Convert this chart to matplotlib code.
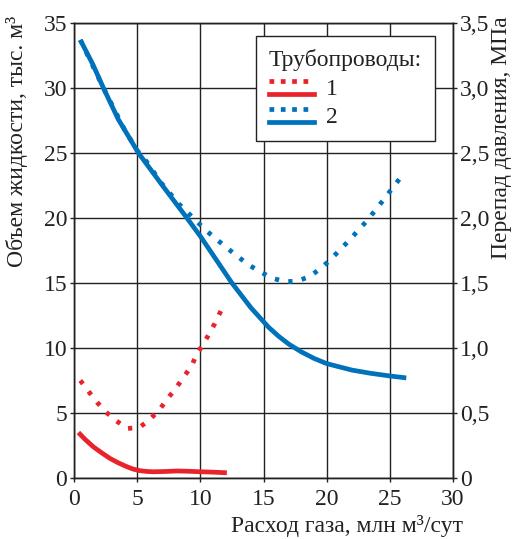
import matplotlib
matplotlib.use('Agg')
import matplotlib.pyplot as plt
from matplotlib.legend_handler import HandlerBase
from matplotlib.lines import Line2D

SERIF = ['Liberation Serif', 'DejaVu Serif']
plt.rcParams['font.family'] = SERIF

RED = '#e8232b'
BLUE = '#0072bc'
FS = 17

# solid curves - liquid volume, thousand m3 (left axis)
x_vol1 = [0.35, 0.9, 1.53, 2.2, 2.86, 3.5, 4.18, 4.7, 5.24, 5.8, 6.3, 7.2, 8.15, 9.0, 10.0, 11.0, 12.1]
vol1 = [3.5, 2.95, 2.4, 1.93, 1.5, 1.17, 0.87, 0.68, 0.56, 0.5, 0.48, 0.5, 0.54, 0.52, 0.48, 0.45, 0.4]

x_vol2 = [0.5, 1.5, 2.33, 3.5, 5.1, 7.0, 8.94, 10.0, 12.5, 14.0, 15.4, 16.2, 17.0, 18.0, 19.0,
          20.0, 22.0, 23.5, 25.0, 26.3]
vol2 = [33.7, 31.8, 30.0, 27.6, 25.0, 22.5, 20.0, 18.6, 15.0, 13.1, 11.6, 10.9, 10.3, 9.7, 9.2,
        8.8, 8.3, 8.05, 7.85, 7.7]

# dotted curves - pressure drop, MPa (right axis)
x_dp1 = [0.5, 1.2, 1.85, 2.55, 3.35, 4.2, 5.2, 6.0, 6.8, 7.4, 8.1, 8.7, 9.3, 9.7, 10.3, 11.1, 11.8]
dp1 = [0.75, 0.66, 0.58, 0.505, 0.44, 0.38, 0.39, 0.45, 0.53, 0.61, 0.695, 0.78, 0.86, 0.95, 1.04, 1.18, 1.32]

x_dp2 = [0.5, 2.33, 4.0, 5.0, 5.77, 6.9, 8.28, 10.5, 12.1, 13.8, 15.6, 16.7, 17.7, 18.65, 19.5,
         20.3, 21.8, 23.2, 24.5, 25.8]
dp2 = [3.37, 3.0, 2.68, 2.52, 2.43, 2.27, 2.11, 1.90, 1.77, 1.64, 1.54, 1.51, 1.515, 1.55, 1.61,
       1.68, 1.83, 1.98, 2.14, 2.305]

xticks = [0, 5, 10, 15, 20, 25, 30]
yticks_left = [0, 5, 10, 15, 20, 25, 30, 35]
yticks_right = [0, 0.5, 1.0, 1.5, 2.0, 2.5, 3.0, 3.5]
yticklabels_right = ['0', '0,5', '1,0', '1,5', '2,0', '2,5', '3,0', '3,5']


class HandlerPair(HandlerBase):
    # dotted line above solid line, like in the original figure
    def create_artists(self, legend, orig_handle, xdescent, ydescent,
                       width, height, fontsize, trans):
        dotted, solid = orig_handle
        x0, x1 = -xdescent, width - xdescent
        ya = -ydescent + height * 0.85
        yb = -ydescent + height * 0.05
        l1 = Line2D([x0, x1], [ya, ya], color=dotted.get_color(),
                    lw=dotted.get_linewidth(), linestyle=(0, (1, 1.4)),
                    dash_capstyle='butt')
        l2 = Line2D([x0, x1], [yb, yb], color=solid.get_color(),
                    lw=solid.get_linewidth())
        l1.set_transform(trans)
        l2.set_transform(trans)
        return [l1, l2]


fig = plt.figure(figsize=(5.2, 5.39), dpi=100)
ax = fig.add_axes([74/520, 1-478/539, 379/520, 455/539])
ax2 = ax.twinx()

lw = 3.4
s1, = ax.plot(x_vol1, vol1, color=RED, lw=lw, solid_capstyle='butt', solid_joinstyle='round')
s2, = ax.plot(x_vol2, vol2, color=BLUE, lw=lw, solid_capstyle='butt', solid_joinstyle='round')
d1, = ax2.plot(x_dp1, dp1, color=RED, lw=lw, linestyle=(0, (0.9, 2.0)), dash_capstyle='butt')
d2, = ax2.plot(x_dp2, dp2, color=BLUE, lw=lw, linestyle=(0, (0.9, 2.0)), dash_capstyle='butt')

ax.set_xlim(0, 30)
ax.set_ylim(0, 35)
ax2.set_ylim(0, 3.5)
ax.set_xticks(xticks)
ax.set_yticks(yticks_left)
ax2.set_yticks(yticks_right)
ax2.set_yticklabels(yticklabels_right)
ax.grid(True, color='#222222', lw=1.0)
ax.set_axisbelow(True)

for a in (ax, ax2):
    a.tick_params(labelsize=FS, length=3, width=1, color='#222222', pad=2)
    for sp in a.spines.values():
        sp.set_linewidth(1.0)
        sp.set_color('#222222')
    for t in a.get_xticklabels() + a.get_yticklabels():
        t.set_fontfamily(SERIF)
        t.set_color('#222222')
ax.tick_params(axis='x', pad=5)

fig.text(17/520, 1-16/539, 'Объем жидкости, тыс. м³', rotation=90, ha='center', va='top',
         fontsize=FS, color='#222222')
fig.text(501/520, 1-16/539, 'Перепад давления, МПа', rotation=90, ha='center', va='top',
         fontsize=FS, color='#222222')
fig.text(463/520, 1-537/539, 'Расход газа, млн м³/сут', ha='right', va='bottom', fontsize=FS,
         color='#222222')

leg = ax2.legend([(d1, s1), (d2, s2)], ['1', '2'], title='Трубопроводы:',
                 handler_map={tuple: HandlerPair()},
                 loc='upper left', bbox_to_anchor=(256/520, 1-36/539),
                 bbox_transform=fig.transFigure, borderaxespad=0,
                 fontsize=FS, title_fontsize=FS, fancybox=False, framealpha=1,
                 edgecolor='#222222', handlelength=1.9, handletextpad=0.5,
                 labelspacing=0.3, borderpad=0.55)
leg._legend_box.align = 'left'
leg.get_frame().set_linewidth(1.0)
for t in leg.get_texts():
    t.set_color('#222222')
leg.get_title().set_color('#222222')

fig.savefig('out.png', dpi=100)
